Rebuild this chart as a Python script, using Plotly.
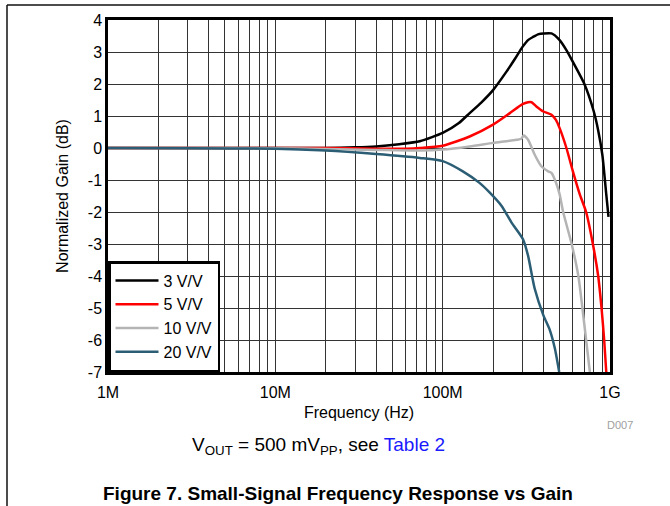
import plotly.graph_objects as go

# ---------------- data ----------------
freq_3 = [1e6, 3e6, 10e6, 20e6, 30e6, 40e6, 55e6, 73e6, 100e6, 125e6, 145e6, 170e6, 200e6, 240e6,
          270e6, 300e6, 325e6, 347e6, 375e6, 400e6, 447e6, 500e6, 550e6, 600e6, 700e6, 800e6,
          850e6, 900e6, 950e6, 980e6]
gain_3 = [0.0, 0.0, 0.0, 0.0, 0.02, 0.05, 0.12, 0.21, 0.47, 0.78, 1.09, 1.42, 1.81, 2.38,
          2.78, 3.16, 3.38, 3.47, 3.56, 3.58, 3.58, 3.37, 3.05, 2.69, 2.02, 1.14,
          0.55, -0.21, -1.45, -2.15]

freq_5 = [1e6, 3e6, 10e6, 20e6, 40e6, 60e6, 73e6, 100e6, 145e6, 200e6, 252e6, 300e6, 324e6, 340e6,
          363e6, 400e6, 447e6, 475e6, 500e6, 549e6, 600e6, 660e6, 720e6, 790e6, 850e6, 890e6,
          923e6, 950e6]
gain_5 = [0.0, 0.0, 0.0, 0.0, -0.02, -0.02, 0.0, 0.07, 0.36, 0.73, 1.09, 1.37, 1.43, 1.43,
          1.30, 1.14, 1.04, 0.88, 0.62, 0.0, -0.73, -1.45, -2.0, -3.0, -4.0, -5.0,
          -6.0, -7.0]

freq_10 = [1e6, 3e6, 10e6, 20e6, 40e6, 73e6, 100e6, 145e6, 200e6, 264e6, 295e6, 305e6, 324e6,
           355e6, 389e6, 427e6, 447e6, 480e6, 500e6, 525e6, 590e6, 647e6, 684e6, 720e6, 758e6]
gain_10 = [0.0, 0.0, -0.01, -0.03, -0.06, -0.08, -0.05, 0.05, 0.16, 0.24, 0.29, 0.39, 0.26,
           -0.21, -0.57, -0.73, -0.78, -1.14, -1.45, -2.0, -3.0, -4.0, -5.0, -6.0, -7.0]

freq_20 = [1e6, 3e6, 10e6, 20e6, 40e6, 73e6, 100e6, 132e6, 166e6, 190e6, 225e6, 258e6, 302e6,
           324e6, 355e6, 400e6, 437e6, 468e6, 497e6]
gain_20 = [0.0, -0.01, -0.02, -0.08, -0.19, -0.31, -0.41, -0.73, -1.09, -1.38, -1.81, -2.33, -2.85,
           -3.37, -4.40, -5.23, -5.69, -6.26, -7.0]

series_names = ["3 V/V", "5 V/V", "10 V/V", "20 V/V"]
series_colors = ["#000000", "#ff0000", "#b4b4b4", "#2b5d74"]

decade_labels = {1e6: "1M", 1e7: "10M", 1e8: "100M", 1e9: "1G"}
y_ticks = list(range(-7, 5))

# ---------------- figure ----------------
FONT = "Liberation Sans, Arial, sans-serif"
fig = go.Figure()
for name, color, fx, gy in zip(series_names, series_colors,
                               [freq_3, freq_5, freq_10, freq_20],
                               [gain_3, gain_5, gain_10, gain_20]):
    fig.add_trace(go.Scatter(x=fx, y=gy, mode="lines", name=name,
                             line=dict(color=color, width=2.5, shape="spline", smoothing=0.6)))

xt_vals, xt_text = [], []
for e in (6, 7, 8):
    for d in range(1, 10):
        v = d * 10 ** e
        xt_vals.append(v)
        xt_text.append(decade_labels.get(float(v), ""))
xt_vals.append(1e9)
xt_text.append("1G")

grid = "#333333"
fig.update_xaxes(type="log", range=[6, 9], tickvals=xt_vals, ticktext=xt_text,
                 showgrid=True, gridcolor=grid, gridwidth=1, zeroline=False,
                 showline=True, linecolor="black", linewidth=2.5, mirror=True,
                 ticks="", ticklabelstandoff=4, tickfont=dict(size=16, color="black", family=FONT),
                 title=dict(text="Frequency (Hz)", font=dict(size=16, color="black", family=FONT),
                            standoff=7))
fig.update_yaxes(range=[-7, 4], tickvals=y_ticks, ticktext=[str(v) for v in y_ticks],
                 showgrid=True, gridcolor=grid, gridwidth=1,
                 zeroline=False, showline=True, linecolor="black", linewidth=2.5, mirror=True,
                 ticks="", tickfont=dict(size=16, color="black", family=FONT),
                 title=dict(text="Normalized Gain (dB)", font=dict(size=16, color="black", family=FONT),
                            standoff=16))

W, H = 670, 506
L, R, T, B = 108, 60, 20, 134
pw, ph = W - L - R, H - T - B

def px(x):
    return (x - L) / pw

def py(y):
    return (H - B - y) / ph

fig.update_layout(
    width=W, height=H, margin=dict(l=L, r=R, t=T, b=B),
    paper_bgcolor="white", plot_bgcolor="white",
    font=dict(family=FONT, color="black"),
    legend=dict(x=0, y=0, xanchor="left", yanchor="bottom", bgcolor="white",
                bordercolor="black", borderwidth=2.5, font=dict(size=16, family=FONT, color="black"),
                itemwidth=43, tracegroupgap=0),
    shapes=[
        dict(type="line", xref="paper", yref="paper", x0=px(7), x1=px(672), y0=py(5), y1=py(5),
             line=dict(color="#111", width=1.5)),
        dict(type="line", xref="paper", yref="paper", x0=px(7), x1=px(7), y0=py(5), y1=py(508),
             line=dict(color="#111", width=1.5)),
    ],
    annotations=[
        dict(text="D007", xref="paper", yref="paper", x=px(620), y=py(425), showarrow=False,
             xanchor="center", yanchor="middle",
             font=dict(size=11, color="#a0a0a0", family=FONT)),
        dict(text="V<sub>OUT</sub> = 500 mV<sub>PP</sub>, see <span style='color:#1a1aff'>Table 2</span>",
             xref="paper", yref="paper", x=px(318), y=py(446), showarrow=False,
             xanchor="center", yanchor="middle",
             font=dict(size=19, color="black", family=FONT)),
        dict(text="<b>Figure 7. Small-Signal Frequency Response vs Gain</b>", xref="paper", yref="paper",
             x=px(338), y=py(493), showarrow=False, xanchor="center", yanchor="middle",
             font=dict(size=19, color="black", family=FONT)),
    ],
)

fig.write_html("out.html", config={"displayModeBar": False},
               post_script="document.body.style.margin='0';")
